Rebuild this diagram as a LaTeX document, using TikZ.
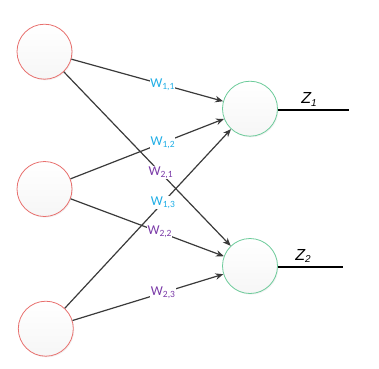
\documentclass[tikz,border=0pt]{standalone}
\usepackage{fontspec}
\setmainfont{Carlito}
\newfontfamily\zfont{Liberation Sans}
\usetikzlibrary{arrows.meta,shadows}
\definecolor{inred}{HTML}{E8706E}
\definecolor{outgreen}{HTML}{6CCB9A}
\definecolor{wblue}{HTML}{1FAEE6}
\definecolor{wpurple}{HTML}{7A3AA8}
\definecolor{edgegray}{HTML}{3A3A3A}
\tikzset{
  neuron/.style={circle, minimum size=55pt, inner sep=0pt, line width=0.8pt,
    top color=white, bottom color=gray!7,
    drop shadow={opacity=0.10, shadow xshift=1pt, shadow yshift=-1.2pt}},
  innode/.style={neuron, draw=inred},
  outnode/.style={neuron, draw=outgreen},
  conn/.style={draw=edgegray, line width=1.2pt, -{Stealth[length=8pt,width=6.5pt]}},
  wlab/.style={fill=white, inner sep=0.6pt, font=\fontsize{13.5}{13.5}\selectfont, pos=0.6},
  wb/.style={wlab, text=wblue},
  wp/.style={wlab, text=wpurple},
  outline/.style={line width=2.6pt, black},
  zlab/.style={font=\zfont\itshape\fontsize{16}{16}\selectfont, inner sep=0pt}
}
\newcommand{\wsub}[1]{W\raisebox{-0.35ex}{\fontsize{9.5}{9.5}\selectfont #1}}
\begin{document}
\begin{tikzpicture}[x=1pt,y=1pt]
\useasboundingbox (0,0) rectangle (379,368);
\node[innode] (a1) at (44.5,316.3) {};
\node[innode] (a2) at (44.5,179) {};
\node[innode] (a3) at (45.8,39.3) {};
\node[outnode] (b1) at (250,259.3) {};
\node[outnode] (b2) at (250,102) {};
\coordinate (z1) at (349,258);
\coordinate (z2) at (343,101);
\draw[conn] (a1) -- node[wb] {\wsub{1,1}} (b1);
\draw[conn] (a1) -- node[wp, pos=0.58] {\wsub{2,1}} (b2);
\draw[conn] (a2) -- node[wb] {\wsub{1,2}} (b1);
\draw[conn] (a2) -- node[wp, pos=0.58] {\wsub{2,2}} (b2);
\draw[conn] (a3) -- node[wb, pos=0.59] {\wsub{1,3}} (b1);
\draw[conn] (a3) -- node[wp] {\wsub{2,3}} (b2);
\draw[outline] (b1.east |- z1) -- (z1);
\draw[outline] (b2.east |- z2) -- (z2);
\node[zlab] (lz1) at (309,268.5) {Z\raisebox{-0.25ex}{\fontsize{10}{10}\selectfont 1}};
\node[zlab] (lz2) at (303,112) {Z\raisebox{-0.25ex}{\fontsize{10}{10}\selectfont 2}};
\end{tikzpicture}
\end{document}
